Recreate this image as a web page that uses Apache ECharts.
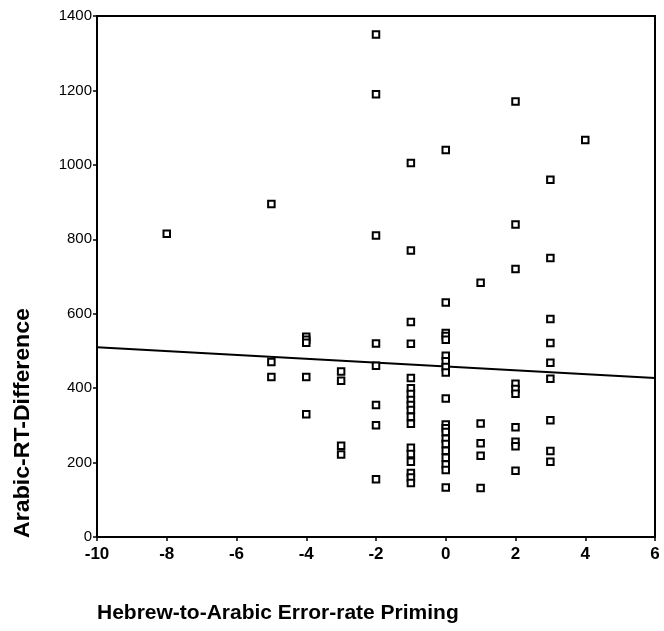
<!DOCTYPE html>
<html>
<head>
<meta charset="utf-8">
<script src="https://cdn.jsdelivr.net/npm/echarts@6/dist/echarts.min.js"></script>
<style>html,body{margin:0;padding:0;background:#fff}#c{width:664px;height:631px}</style>
</head>
<body>
<div id="c"></div>
<script>
// Data (x = error-rate priming, values = Arabic RT difference)
var xAt_m8 = [815];
var xAt_m5 = [895, 470, 430];
var xAt_m4 = [538, 530, 522, 430, 330];
var xAt_m3 = [445, 420, 245, 222];
var xAt_m2 = [1350, 1190, 810, 520, 460, 355, 300, 155];
var xAt_m1 = [1005, 770, 578, 519, 427, 400, 384, 368, 355, 341, 323, 304, 240, 223, 202, 172, 160, 145];
var xAt_0 = [1040, 630, 548, 540, 530, 487, 472, 457, 442, 372, 302, 292, 282, 264, 250, 232, 213, 195, 180, 133];
var xAt_1 = [683, 305, 252, 218, 132];
var xAt_2 = [1170, 840, 720, 412, 398, 385, 295, 256, 244, 178];
var xAt_3 = [960, 750, 586, 521, 468, 425, 314, 231, 202];
var xAt_4 = [1067];
var columnX = [-8, -5, -4, -3, -2, -1, 0, 1, 2, 3, 4];
var columnVals = [xAt_m8, xAt_m5, xAt_m4, xAt_m3, xAt_m2, xAt_m1, xAt_0, xAt_1, xAt_2, xAt_3, xAt_4];
// Regression line endpoints
var fitX = [-10, 6];
var fitY = [510, 427];
var xTicks = [-10, 6, 2];   // min, max, interval
var yTicks = [0, 1400, 200];
var xTitle = 'Hebrew-to-Arabic Error-rate Priming';
var yTitle = 'Arabic-RT-Difference';

var points = [];
columnX.forEach(function (x, i) {
  columnVals[i].forEach(function (v) { points.push([x, v]); });
});
var fitData = fitX.map(function (x, i) { return [x, fitY[i]]; });

var chart = echarts.init(document.getElementById('c'), null, {renderer: 'canvas'});
var FONT = 'Liberation Sans';
chart.setOption({
  animation: false,
  backgroundColor: '#fff',
  grid: {left: 97, right: 9, top: 16, bottom: 94, show: true, borderColor: '#000', borderWidth: 2, backgroundColor: 'transparent'},
  xAxis: {
    type: 'value', min: xTicks[0], max: xTicks[1], interval: xTicks[2],
    axisLine: {show: true, onZero: false, lineStyle: {color: '#000', width: 2}},
    axisTick: {show: true, length: 4, lineStyle: {color: '#000', width: 1.5}},
    splitLine: {show: false},
    axisLabel: {color: '#000', fontFamily: FONT, fontWeight: 'bold', fontSize: 17, margin: 9,
      formatter: function (v) { return String(v); }}
  },
  yAxis: {
    type: 'value', min: yTicks[0], max: yTicks[1], interval: yTicks[2],
    axisLine: {show: true, onZero: false, lineStyle: {color: '#000', width: 2}},
    axisTick: {show: true, length: 4, lineStyle: {color: '#000', width: 1.5}},
    splitLine: {show: false},
    axisLabel: {color: '#000', fontFamily: FONT, fontSize: 15, margin: 5,
      formatter: function (v) { return String(v); }}
  },
  graphic: [
    {type: 'text', left: 97, top: 603, style: {text: xTitle, font: 'bold 21px "Liberation Sans"', fill: '#000'}},
    {type: 'text', x: 12, y: 423, rotation: Math.PI / 2, scaleX: 1.05,
     style: {text: yTitle, font: 'bold 22px "Liberation Sans"', fill: '#000', align: 'center', verticalAlign: 'top'}}
  ],
  series: [
    {type: 'line', data: fitData, symbol: 'none', lineStyle: {color: '#000', width: 2}, z: 2},
    {type: 'scatter', data: points, symbol: 'rect', symbolSize: 6.5,
     itemStyle: {color: '#fff', borderColor: '#000', borderWidth: 2, opacity: 1}, z: 3}
  ]
});
</script>
</body>
</html>
